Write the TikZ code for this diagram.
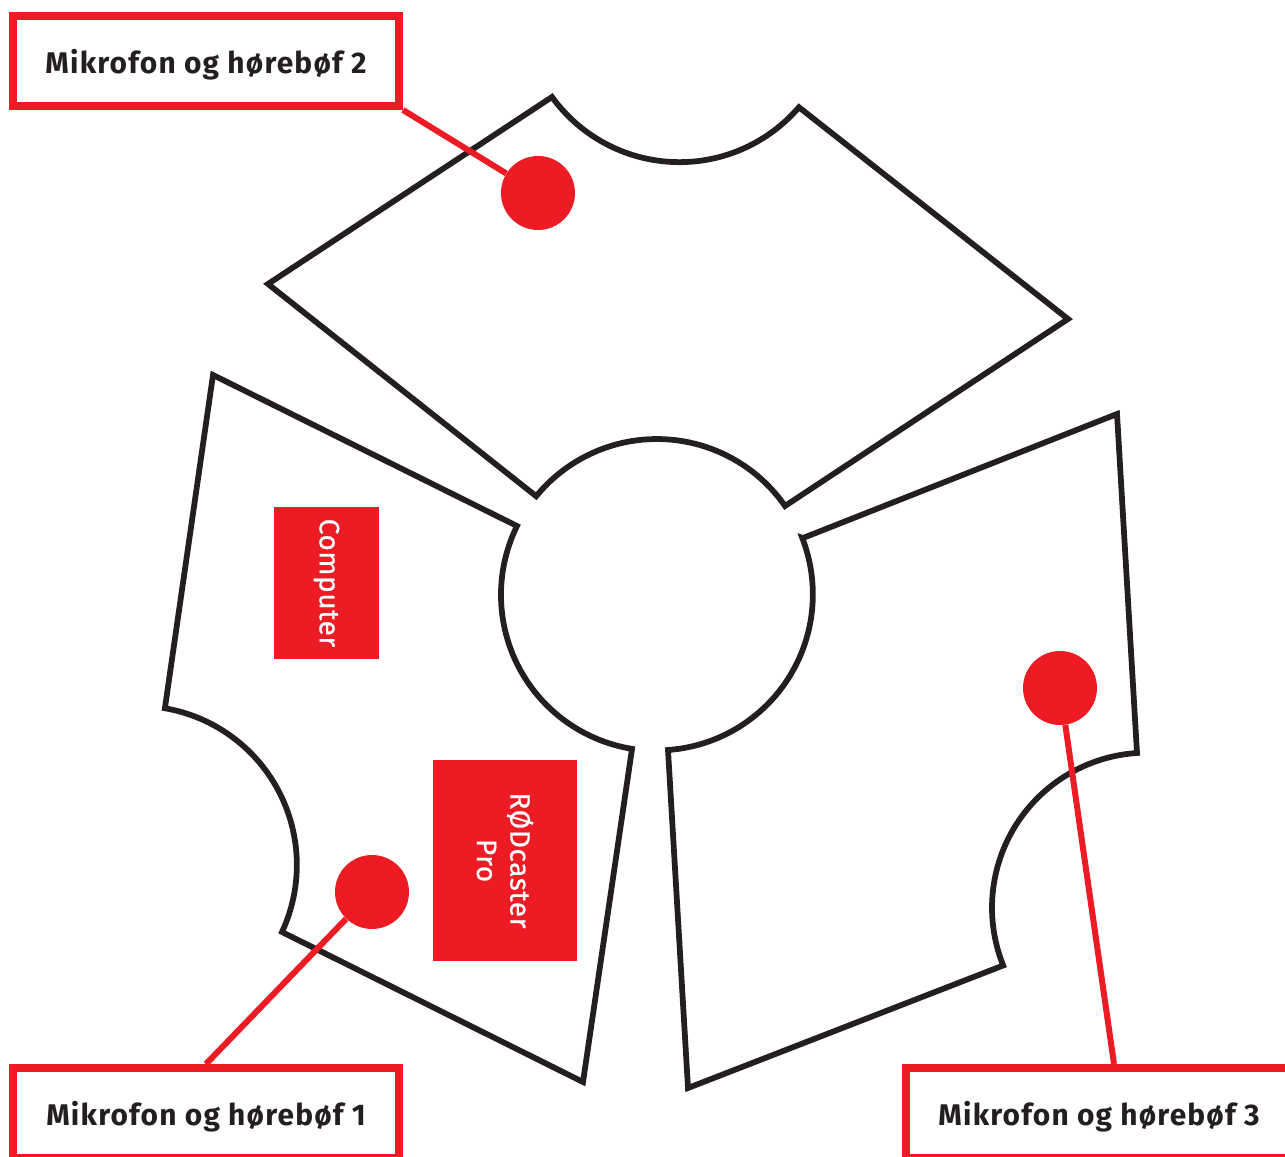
\documentclass[tikz,border=0pt]{standalone}
\usepackage{fontspec}
\setmainfont{Fira Sans}
\newfontfamily\tagfont{Fira Sans}[LetterSpace=4]
\newfontfamily\gearfont{Fira Sans}[LetterSpace=2, FakeBold=0.6]
\definecolor{studiored}{RGB}{237,28,36}
\definecolor{outline}{RGB}{35,31,32}

\begin{document}
\begin{tikzpicture}[x=0.2mm, y=0.2mm, table/.style={draw=outline, line width=0.115cm},
    seat/.style={circle, fill=studiored, minimum size=1.48cm, inner sep=0pt},
    tag/.style={draw=studiored, line width=0.16cm, minimum width=7.72cm, minimum height=1.8cm, text depth=0pt, text=outline, font=\tagfont\fontsize{17}{20}\selectfont\bfseries},
    gear/.style={fill=studiored, text=white, rotate=-90, align=center, font=\gearfont\fontsize{16}{19}\selectfont},
    wire/.style={draw=studiored, line width=0.12cm}]
    \useasboundingbox (0,0) rectangle (1285,1156);

    \draw[table] (552,1059) arc[start angle=215.85, end angle=319.4, radius=157.3] -- (1068,837) -- (785,650)
        arc[start angle=34.8, end angle=140.7, radius=156] -- (268,872) -- cycle;
    \draw[table] (213,781) -- (517,630) arc[start angle=153.8, end angle=260.8, radius=156] -- (583,74) -- (282,224)
        arc[start angle=-24.95, end angle=80.2, radius=159] -- cycle;
    \draw[table] (803,618) -- (1117,742) -- (1137,403) arc[start angle=93.7, end angle=201.9, radius=155] -- (688,68) -- (668,406)
        arc[start angle=274.1, end angle=381.3, radius=156] -- cycle;

    \node[gear, minimum width=3.04cm, minimum height=2.1cm] (computer) at (326.5,573) {Computer};
    \node[gear, minimum width=4.02cm, minimum height=2.88cm] (rodecaster) at (505,295.5) {RØDcaster\\Pro};

    \node[seat] (mic2) at (538,963) {};
    \node[seat] (mic1) at (372,264) {};
    \node[seat] (mic3) at (1060,468) {};

    \node[tag] (label2) at (206,1095) {Mikrofon og hørebøf 2};
    \node[tag] (label1) at (206,43) {Mikrofon og hørebøf 1};
    \node[tag] (label3) at (1099,43) {Mikrofon og hørebøf 3};

    \draw[wire] (label2.south east) -- (mic2);
    \draw[wire] (mic1) -- (label1.north);
    \draw[wire] (mic3) -- ([xshift=0.3cm]label3.north);
\end{tikzpicture}
\end{document}
